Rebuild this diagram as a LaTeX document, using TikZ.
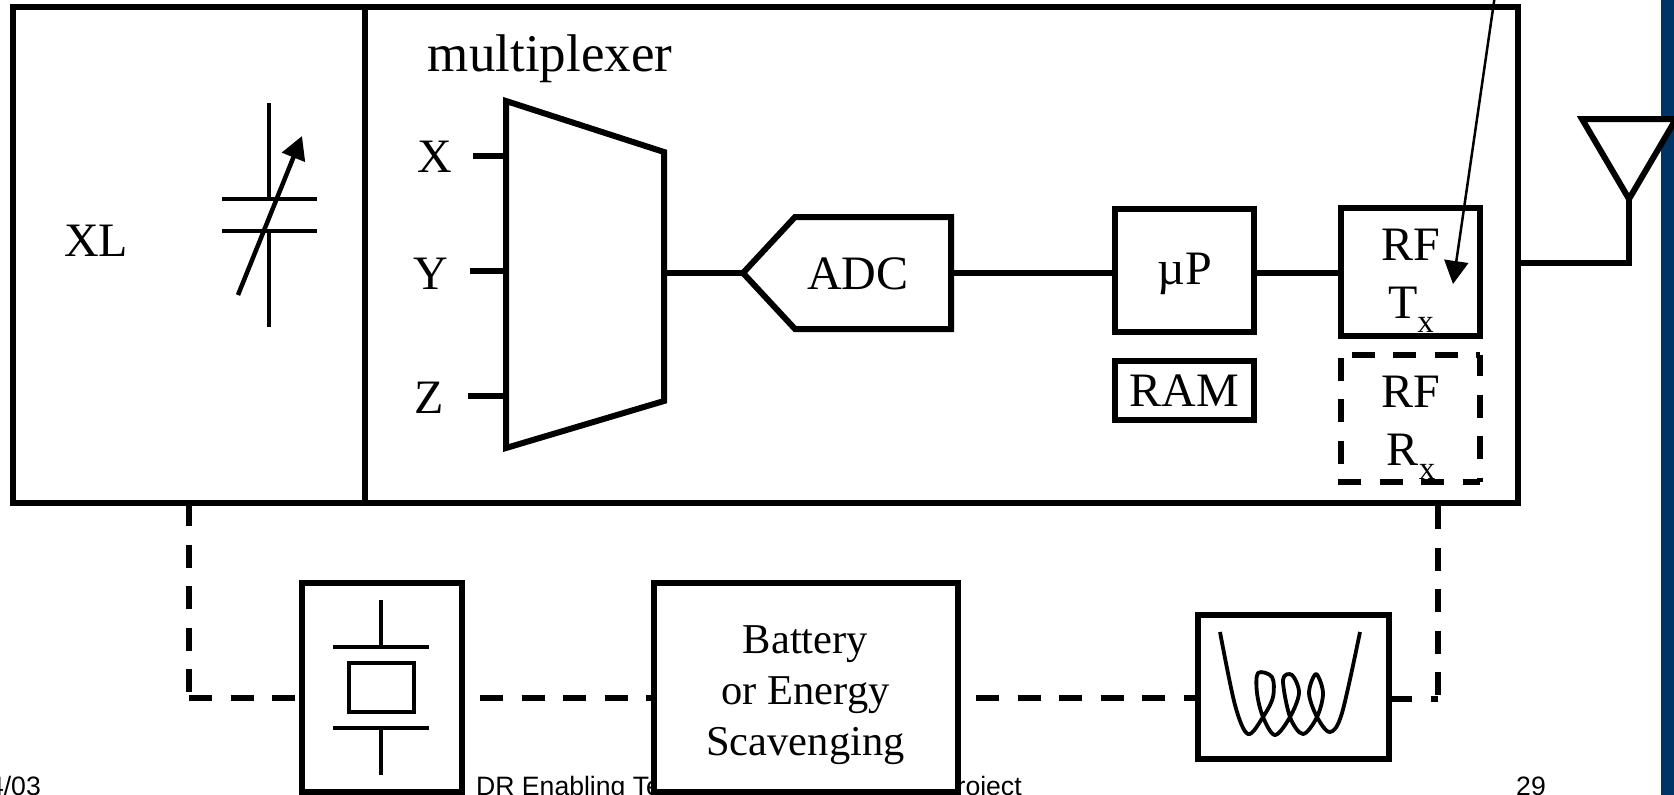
\documentclass[tikz,border=0pt]{standalone}
\usepackage{fontspec}
\setmainfont{Liberation Serif}
\newfontfamily\footfont{Liberation Sans}
\usetikzlibrary{arrows.meta}
\definecolor{bandblue}{RGB}{0,51,102}
\newcommand{\subx}{\raisebox{-0.3em}{\fontsize{33}{33}\selectfont x}}

\begin{document}
\begin{tikzpicture}[%
    x=1pt, y=-1pt,                % Picture is laid out in reference pixels
    >={Triangle[length=23pt,width=24pt]},
    ]
% -------------------------------------------------
% A few styles
\tikzset{
  base/.style={draw, line width=6pt, outer sep=0pt, inner sep=0pt, fill=white, align=center},
  lbl/.style={inner sep=0pt, font=\fontsize{48}{58}\selectfont, align=center},
  foot/.style={inner sep=0pt, font=\footfont\fontsize{26.6}{26.6}\selectfont},
  % Connector line styles
  norm/.style={draw, line width=5.5pt},
  thinsym/.style={draw, line width=4pt},
  dashln/.style={draw, line width=6pt, dash pattern=on 23pt off 18.5pt},
  dashlnb/.style={dashln, dash phase=23pt}
}
\clip (0,0) rectangle (1674,795);
\fill[white] (0,0) rectangle (1674,795);
\fill[bandblue] (1661,0) rectangle (1674,795);
% -------------------------------------------------
% Footer goes first, the lower boxes sit on top of it
\node [foot, anchor=base east] (date) at (41,795) {4/03};
\node [foot, anchor=base west] (title) at (476,795) {DR Enabling Technology Development Project};
\node [foot, anchor=base east] (page) at (1546,795) {29};
% -------------------------------------------------
% Outer box
\node [base, minimum width=1505pt, minimum height=496pt] (main) at (765.5,255) {};
\coordinate (xdiv) at (365,0);
\draw [line width=6pt] (main.north -| xdiv) -- (main.south -| xdiv);
\node [lbl] (xl) at (96,241) {XL};
\node [lbl, font=\fontsize{53}{53}\selectfont] (muxlabel) at (550,59) {multiplexer};
% Variable capacitor
\draw [thinsym] (269,103) -- (269,199);
\draw [thinsym] (222,199) -- (317,199);
\draw [thinsym] (222,231) -- (317,231);
\draw [thinsym] (269,231) -- (269,327);
\draw [->, line width=4.5pt] (238,295) -- (302,136);
% Multiplexer
\coordinate (muxa) at (506,101);
\coordinate (muxb) at (664,152);
\coordinate (muxc) at (664,401);
\coordinate (muxd) at (506,448);
\draw [line width=6pt] (muxa) -- (muxb) -- (muxc) -- (muxd) -- cycle;
\node [lbl] (x) at (435,157) {X};
\node [lbl] (y) at (431,274) {Y};
\node [lbl] (z) at (429,398) {Z};
\coordinate (xin) at (473,156);
\coordinate (yin) at (470,271);
\coordinate (zin) at (468,396);
\draw [norm] (xin) -- (xin -| muxa);
\draw [norm] (yin) -- (yin -| muxa);
\draw [norm] (zin) -- (zin -| muxa);
% ADC and the blocks after it
\coordinate (adctip) at (743,273);
\coordinate (adcout) at (951,273);
\draw [line width=6pt] (adctip) -- (795,217) -- (951,217) -- (951,329) -- (795,329) -- cycle;
\node [lbl] (adc) at (858,274) {ADC};
\node [base, minimum width=139pt, minimum height=123pt] (up) at (1184.5,270.5) {};
\node [lbl] (uplabel) at (1185,274) {µP};
\node [base, lbl, minimum width=139pt, minimum height=59pt] (ram) at (1184.5,390.5) {RAM};
\node [base, minimum width=139pt, minimum height=128pt] (tx) at (1410.5,272) {};
\node [lbl] (txlabel) at (1411,281) {RF\\T\subx};
% The dashes of this box start on each side by themselves
\node [outer sep=0pt, inner sep=0pt, minimum width=139pt, minimum height=127pt] (rx) at (1410.5,418.5) {};
\draw [dashln, dash phase=31pt] (rx.north west) -- (rx.north east);
\draw [dashln, dash phase=39pt] (rx.north west) -- (rx.south west);
\draw [dashln, dash phase=2pt] (rx.north east) -- (rx.south east);
\draw [dashln, dash phase=0pt, shorten <=-3pt] (rx.south west) -- (rx.south east);
\node [lbl] (rxlabel) at (1411,428) {RF\\R\subx};
\draw [norm] (muxb |- adctip) -- (adctip);
\draw [norm] (adcout) -- (up.west |- adctip);
\draw [norm] (up.east |- adctip) -- (tx.west |- adctip);
% Thin arrow coming in from above the picture
\coordinate (feed) at (1496,-12);
\coordinate (feedtip) at (1453,284);
\draw [->, line width=2.5pt] (feed) -- (feedtip);
% Antenna
\coordinate (ant) at (1629,199);
\draw [line width=6pt, fill=white, miter limit=10] (1582,119) -- (1676,119) -- (ant) -- cycle;
\coordinate (antfoot) at (1629,263);
\draw [norm] (ant) -- (antfoot) -- (antfoot -| main.east);
% -------------------------------------------------
% Lower row
\coordinate (dl) at (189,698);
\coordinate (dr) at (1438,699);
\node [base, minimum width=160pt, minimum height=209pt] (xtal) at (381.5,687.5) {};
\node [base, minimum width=304pt, minimum height=209pt] (batt) at (805.5,687.5) {};
\node [lbl, font=\fontsize{42.5}{51}\selectfont] (battlabel) at (805.5,695) {Battery\\or Energy\\Scavenging};
\node [base, minimum width=191pt, minimum height=144pt] (coil) at (1293.5,687) {};
\draw [dashln] (main.south -| dl) -- (dl);
\draw [dashln] (dl) -- (dl -| xtal.west);
\draw [dashlnb] (xtal.east |- dl) -- (batt.west |- dl);
\draw [dashlnb] (batt.east |- dl) -- (coil.west |- dl);
\draw [dashln, shorten <=3pt] (main.south -| dr) -- (dr);
\draw [dashln] (coil.east |- dr) -- (dr);
% Crystal
\draw [thinsym] (381,600) -- (381,647);
\draw [thinsym] (333,647) -- (429,647);
\draw [line width=4pt] (349,663) rectangle (414,712);
\draw [thinsym] (333,728) -- (429,728);
\draw [thinsym] (381,728) -- (381,775);
% Coil
\draw [line width=3.8pt, line join=round] plot [smooth, tension=0.55] coordinates {
  (1220,632) (1235,705) (1248,734) (1263,717) (1273,697) (1272,677) (1258,673)
  (1257,693) (1263,717) (1275,735) (1290,717) (1299,693) (1292,675) (1283,680)
  (1290,717) (1303,734) (1317,717) (1323,693) (1316,674) (1309,693) (1317,717)
  (1330,732) (1342,713) (1360,632)};
% -------------------------------------------------
\end{tikzpicture}
\end{document}
